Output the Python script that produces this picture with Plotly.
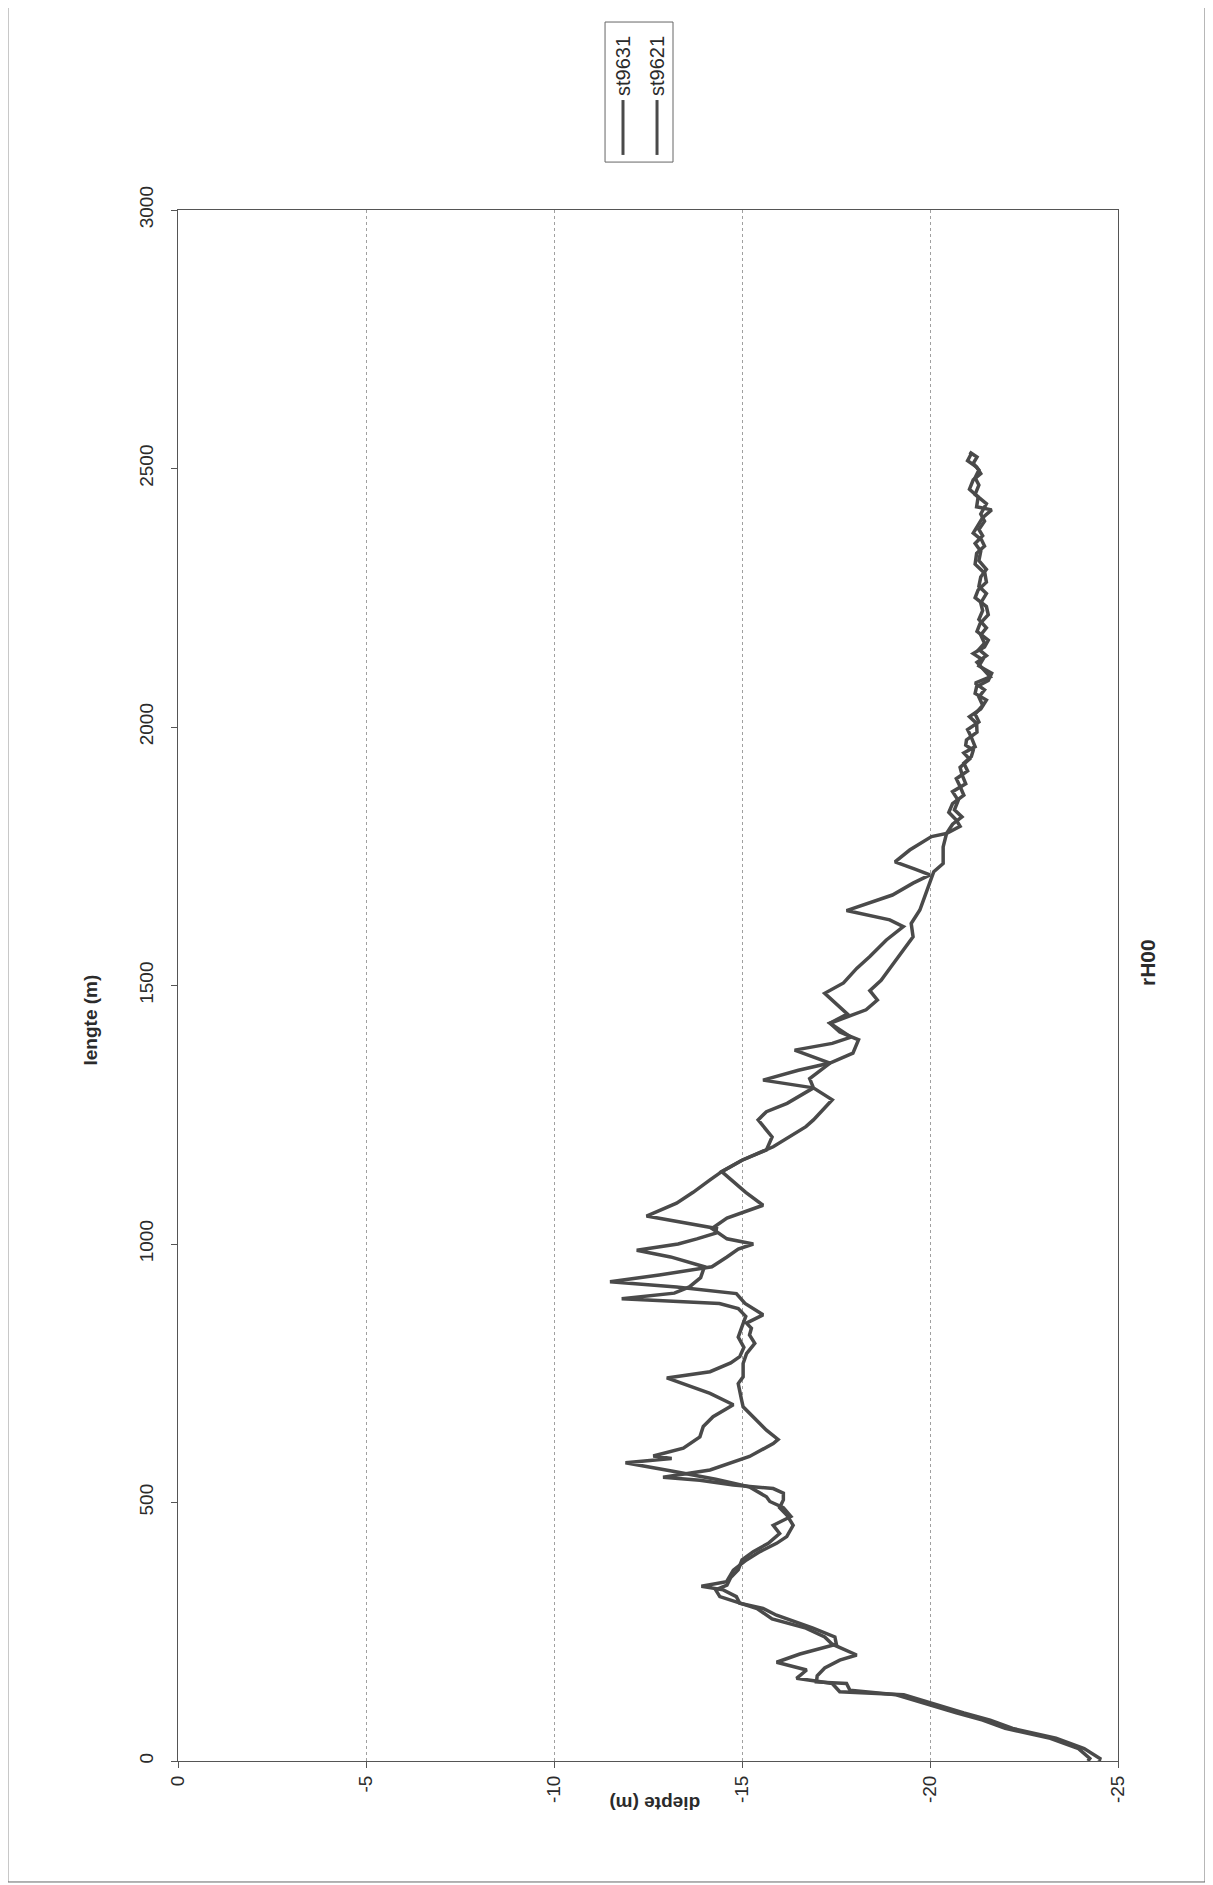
import plotly.graph_objects as go

# st9631 profile: lengte (m) along the section, diepte (m)
lengte_st9631 = [0, 5, 24, 44, 63, 79, 93, 108, 128, 134, 150, 160, 176, 191, 207, 226, 240, 257, 282, 295,
                 305, 318, 331, 338, 347, 369, 389, 405, 421, 434, 456, 476, 490, 505, 518, 527, 534, 543, 549, 563,
                 589, 614, 622, 640, 666, 685, 698, 730, 743, 769, 788, 808, 824, 837, 847, 863, 885, 904, 917, 927,
                 940, 956, 975, 990, 1000, 1010, 1030, 1050, 1075, 1100, 1125, 1140, 1162, 1182, 1207, 1240, 1256,
                 1272, 1302, 1317, 1336, 1350, 1369, 1395, 1410, 1427, 1453, 1472, 1490, 1510, 1533, 1560, 1594,
                 1620, 1646, 1670, 1698, 1720, 1736, 1768, 1794, 1808, 1820, 1835, 1852, 1868, 1885, 1900, 1915,
                 1930, 1943, 1955, 1965, 1975, 1990, 2007, 2020, 2035, 2052, 2065, 2078, 2090, 2104, 2118, 2130,
                 2142, 2155, 2168, 2185, 2200, 2217, 2233, 2250, 2265, 2280, 2297, 2315, 2336, 2350, 2362, 2375,
                 2387, 2405, 2420, 2426, 2445, 2460, 2478, 2490, 2503, 2515, 2529]
diepte_st9631 = [-24.5, -24.52, -24.1, -23.35, -22.2, -21.6, -20.9, -20.2, -19.3, -17.6, -17.4, -16.45, -16.72,
                 -15.92, -16.54, -17.51, -17.47, -16.89, -15.92, -15.56, -14.94, -14.85, -14.5, -13.92, -14.59,
                 -14.77, -15.12, -15.48, -15.92, -16.19, -16.36, -16.19, -16.0, -16.1, -16.1, -15.83, -14.77, -13.88,
                 -12.9, -14.15, -15.2, -15.83, -15.96, -15.65, -15.3, -15.03, -14.99, -14.9, -15.03, -15.03, -15.12,
                 -15.34, -15.2, -15.25, -15.12, -15.56, -15.08, -14.85, -13.26, -11.49, -12.8, -14.2, -14.6, -14.9,
                 -15.3, -14.6, -14.2, -14.6, -15.56, -15.1, -14.7, -14.46, -15.0, -15.65, -15.8, -15.43, -15.65,
                 -16.2, -16.9, -15.56, -16.5, -17.34, -17.95, -18.1, -17.6, -17.34, -18.3, -18.6, -18.4, -18.7,
                 -18.93, -19.2, -19.55, -19.5, -19.73, -19.85, -20.0, -20.1, -20.35, -20.35, -20.44, -20.8, -20.7,
                 -20.5, -20.6, -20.9, -20.8, -20.7, -21.0, -20.9, -21.1, -21.15, -20.95, -20.97, -21.25, -21.24,
                 -21.05, -21.35, -21.5, -21.2, -21.24, -21.55, -21.64, -21.3, -21.4, -21.15, -21.45, -21.55, -21.25,
                 -21.33, -21.55, -21.5, -21.2, -21.28, -21.5, -21.46, -21.2, -21.24, -21.45, -21.37, -21.15, -21.24,
                 -21.4, -21.64, -21.24, -21.28, -21.05, -21.15, -21.35, -21.24, -21.0, -21.1]

# st9621 profile
lengte_st9621 = [0, 5, 24, 44, 63, 79, 93, 108, 128, 137, 150, 153, 165, 180, 195, 205, 226, 240, 257, 275, 295,
                 318, 331, 340, 355, 370, 389, 405, 421, 440, 456, 473, 490, 502, 511, 530, 545, 560, 577, 585, 590,
                 605, 627, 647, 666, 689, 711, 741, 753, 770, 782, 800, 820, 840, 860, 875, 885, 894, 905, 917, 935,
                 956, 965, 975, 988, 1000, 1010, 1021, 1030, 1054, 1079, 1100, 1124, 1140, 1162, 1188, 1227, 1240,
                 1279, 1302, 1320, 1350, 1375, 1388, 1400, 1427, 1445, 1485, 1505, 1533, 1556, 1588, 1614, 1627,
                 1645, 1675, 1698, 1714, 1725, 1739, 1762, 1788, 1794, 1812, 1826, 1840, 1858, 1875, 1890, 1908,
                 1922, 1938, 1950, 1962, 1980, 1995, 2010, 2025, 2042, 2058, 2072, 2085, 2097, 2110, 2125, 2138,
                 2150, 2162, 2178, 2192, 2208, 2225, 2240, 2258, 2272, 2290, 2305, 2322, 2340, 2355, 2370, 2382,
                 2398, 2412, 2432, 2450, 2468, 2482, 2497, 2510, 2522, 2532]
diepte_st9621 = [-24.2, -24.25, -23.95, -23.2, -22.0, -21.4, -20.7, -20.0, -19.1, -17.87, -17.78, -16.98, -17.0,
                 -17.2, -17.6, -18.05, -17.4, -17.2, -16.7, -15.8, -15.4, -14.41, -14.3, -14.6, -14.7, -14.9, -15.0,
                 -15.3, -15.7, -16.0, -15.83, -16.3, -16.1, -15.74, -15.65, -15.2, -14.3, -13.2, -11.9, -13.13,
                 -12.64, -13.44, -13.88, -13.97, -14.23, -14.77, -14.15, -13.0, -14.15, -14.7, -14.94, -15.05,
                 -14.9, -15.0, -15.1, -14.9, -14.4, -11.8, -13.2, -13.6, -13.9, -14.0, -13.6, -13.1, -12.2, -13.3,
                 -13.8, -14.3, -14.32, -12.46, -13.26, -13.7, -14.15, -14.46, -15.0, -15.83, -16.7, -16.9, -17.4,
                 -16.9, -16.8, -17.34, -16.4, -17.4, -17.9, -17.34, -17.8, -17.2, -17.7, -18.05, -18.4, -18.84,
                 -19.29, -18.93, -17.78, -19.0, -19.55, -20.0, -19.6, -19.07, -19.46, -20.04, -20.44, -20.6, -20.85,
                 -20.65, -20.75, -20.6, -20.95, -20.85, -20.8, -21.05, -20.9, -21.2, -21.1, -21.0, -21.3, -21.2,
                 -21.4, -21.3, -21.45, -21.2, -21.6, -21.45, -21.25, -21.5, -21.3, -21.45, -21.35, -21.5, -21.3,
                 -21.4, -21.35, -21.5, -21.3, -21.35, -21.5, -21.3, -21.35, -21.2, -21.4, -21.3, -21.45, -21.35,
                 -21.5, -21.2, -21.3, -21.2, -21.3, -21.15, -21.25, -21.05]

series_names = ['st9631', 'st9621']
lengte_ticks = [0, 500, 1000, 1500, 2000, 2500, 3000]
diepte_ticks = [0, -5, -10, -15, -20, -25]
diepte_labels = ['0', '-5', '-10', '-15', '-20', '-25']

font = 'Liberation Sans, Arial, sans-serif'
line_col = '#4a4a4a'
text_col = '#2b2b2b'

fig = go.Figure()
for name, x, y in [(series_names[0], diepte_st9631, lengte_st9631),
                   (series_names[1], diepte_st9621, lengte_st9621)]:
    fig.add_trace(go.Scatter(x=x, y=y, name=name, mode='lines',
                             line=dict(color=line_col, width=3.5), showlegend=False))

# the page body adds 8px, margins are set so the plot box lands where the scan has it
fig.update_layout(
    width=1213, height=1885,
    margin=dict(l=170, r=103, t=202, b=132),
    paper_bgcolor='white', plot_bgcolor='white',
    font=dict(family=font, size=19, color=text_col),
)
fig.update_xaxes(range=[0, -25], tickvals=diepte_ticks, ticktext=diepte_labels, tickangle=-90,
                 showline=True, linecolor='#555', linewidth=1, mirror=True,
                 ticks='outside', ticklen=6, tickcolor='#555',
                 showgrid=True, gridcolor='#a0a0a0', griddash='dot', gridwidth=1,
                 zeroline=False, tickfont=dict(size=19))
fig.update_yaxes(range=[0, 3000], tickvals=lengte_ticks, tickangle=-90,
                 showline=True, linecolor='#555', linewidth=1, mirror=True,
                 ticks='outside', ticklen=6, tickcolor='#555', ticklabelstandoff=10,
                 showgrid=False, zeroline=False, tickfont=dict(size=19))

# axis titles, rotated as on the scanned page
fig.add_annotation(text='<b>lengte (m)</b>', x=-0.106, y=0.478, xref='paper', yref='paper',
                   textangle=-90, showarrow=False, font=dict(size=19))
fig.add_annotation(text='<b>diepte (m)</b>', x=0.507, y=-0.035, xref='paper', yref='paper',
                   textangle=180, showarrow=False, font=dict(size=19))
fig.add_annotation(text='<b>rH00</b>', x=1.045, y=0.515, xref='paper', yref='paper',
                   textangle=-90, showarrow=False, font=dict(size=21))

# rotated legend box
fig.add_shape(type='rect', xref='paper', yref='paper', x0=0.4543, x1=0.5266, y0=1.0309, y1=1.1212,
              line=dict(color='#666', width=1))
for name, xp in zip(series_names, [0.4734, 0.5096]):
    fig.add_shape(type='line', xref='paper', yref='paper', x0=xp, x1=xp, y0=1.0355, y1=1.0709,
                  line=dict(color=line_col, width=3))
    fig.add_annotation(text=name, x=xp, y=1.0722, xref='paper', yref='paper', yanchor='bottom',
                       textangle=-90, showarrow=False, font=dict(size=20))

# page frame
fig.add_shape(type='rect', xref='paper', yref='paper', x0=-0.181, x1=1.0926, y0=-0.078, y1=1.1328,
              line=dict(color='#666', width=1))

fig.write_html('out.html')
